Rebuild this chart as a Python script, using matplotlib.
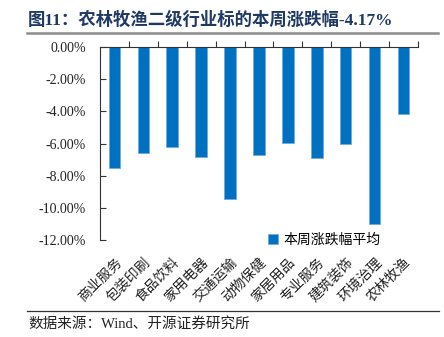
#!/usr/bin/env python3
"""Weekly change of agriculture sub-industries, bar chart."""

import matplotlib

matplotlib.use("Agg")
import matplotlib.pyplot as plt
from matplotlib.lines import Line2D
from matplotlib.ticker import FuncFormatter, FixedLocator

categories = ["商业服务", "包装印刷", "食品饮料", "家用电器", "交通运输", "动物保健",
              "家居用品", "专业服务", "建筑装饰", "环境治理", "农林牧渔"]
weekly_change = [-7.54, -6.60, -6.19, -6.85, -9.43, -6.69, -5.98, -6.92, -6.04, -11.03, -4.17]
y_ticks = [0, -2, -4, -6, -8, -10, -12]

title = "图11：农林牧渔二级行业标的本周涨跌幅-4.17%"
legend_label = "本周涨跌幅平均"
source = "数据来源：Wind、开源证券研究所"

cjk = ["Liberation Serif", "Noto Sans CJK SC"]
plt.rcParams["font.family"] = cjk

fig = plt.figure(figsize=(4.44, 3.37), dpi=100, facecolor="white")
ax = fig.add_axes([0.2252, 0.2878, 0.7162, 0.5727])

x = list(range(len(categories)))
ax.bar(x, weekly_change, width=0.4, color="#0070C0", edgecolor="#6FAAE0", linewidth=0.6,
       label=legend_label)

ax.set_xlim(-0.5, len(categories) - 0.5)
ax.set_ylim(-12, 0)
ax.set_yticks(y_ticks)
ax.yaxis.set_major_formatter(FuncFormatter(lambda v, _: f"{v:.2f}%"))
ax.tick_params(axis="y", direction="in", length=4, width=0.8, labelsize=10, pad=10,
               color="#333333", labelcolor="#222222")

ax.set_xticks(x)
ax.set_xticklabels(categories, rotation=45, ha="right", rotation_mode="anchor",
                   fontsize=10, family=["Noto Sans CJK SC"], color="#222222")
ax.tick_params(axis="x", which="major", length=0, pad=11)
ax.xaxis.set_minor_locator(FixedLocator([i + 0.5 for i in x]))
ax.tick_params(axis="x", which="minor", top=True, bottom=False, direction="out",
               length=4, width=0.8, color="#333333")

for side in ["right", "bottom"]:
    ax.spines[side].set_visible(False)
for side in ["top", "left"]:
    ax.spines[side].set_color("#333333")
    ax.spines[side].set_linewidth(0.8)

ax.legend(loc="lower left", bbox_to_anchor=(0.49, -0.10), frameon=False,
          handlelength=0.7, handleheight=0.7, handletextpad=0.4,
          prop={"family": "Noto Sans CJK SC", "size": 10})

fig.text(0.063, 0.94, title, fontsize=12.5, fontweight="bold", color="#1F3864",
         va="center", ha="left")
fig.add_artist(Line2D([0.061, 0.986], [0.901, 0.901], color="#8C8C8C", linewidth=1.8))
fig.add_artist(Line2D([0.061, 0.988], [0.078, 0.078], color="#333333", linewidth=0.9))
fig.text(0.063, 0.04, source, fontsize=10.5, color="#222222", va="center", ha="left")

fig.savefig("out.png", dpi=100)
